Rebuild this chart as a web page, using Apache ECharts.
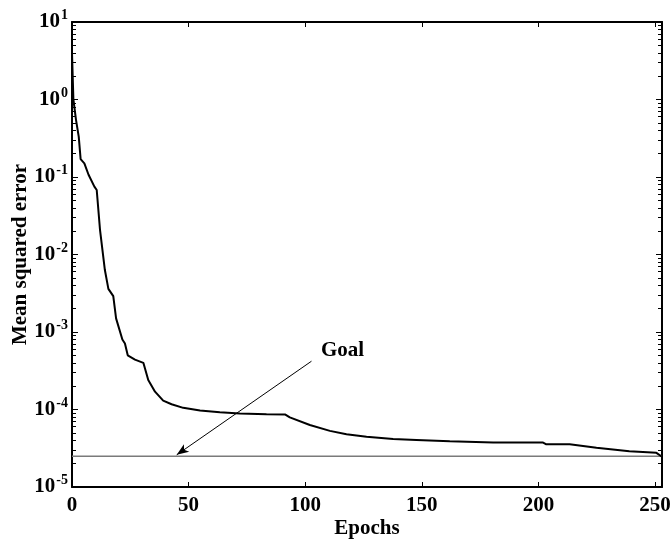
<!DOCTYPE html>
<html>
<head>
<meta charset="utf-8">
<script src="https://cdn.jsdelivr.net/npm/echarts@6/dist/echarts.min.js"></script>
<style>html,body{margin:0;padding:0;background:#fff;}#chart{width:672px;height:543px;}</style>
</head>
<body>
<div id="chart"></div>
<script>
// ---- data ----
const epochs = [0, 0.6, 1.7, 2.9, 3.7, 5.3, 7.1, 9.6, 10.6, 11.3, 12, 14.1, 15.6, 17.7, 18.9, 21.6, 22.7, 23.9, 27, 30.6, 32.7, 35.6, 39.1, 42.7, 47.7, 54.9, 63.4, 72, 83.4, 91.5, 93.4, 102, 110.6, 117.7, 126.3, 137.7, 147.7, 162, 180.6, 202, 203.4, 213.4, 224.9, 239, 250.6, 253];
const mse = [4, 1, 0.55, 0.33, 0.17, 0.15, 0.107, 0.075, 0.068, 0.068, 0.021, 0.0063, 0.0036, 0.0029, 0.0015, 8e-4, 7.1e-4, 5e-4, 4.4e-4, 4e-4, 2.4e-4, 1.7e-4, 1.3e-4, 1.17e-4, 1.05e-4, 9.7e-5, 9.2e-5, 8.9e-5, 8.7e-5, 8.6e-5, 7.9e-5, 6.3e-5, 5.3e-5, 4.8e-5, 4.45e-5, 4.15e-5, 4.05e-5, 3.9e-5, 3.75e-5, 3.75e-5, 3.55e-5, 3.55e-5, 3.2e-5, 2.9e-5, 2.76e-5, 2.46e-5];
const goalValue = 2.5e-5;
const xTicks = [0, 50, 100, 150, 200, 250];
const yDecades = [1e-5, 1e-4, 1e-3, 1e-2, 1e-1, 1, 10];
const xRange = [0, 253];
const arrowFrom = [102.7, 4.2e-4];
const arrowTo = [44.9, 2.6e-5];
const goalLabel = 'Goal';
const xTitle = 'Epochs';
const yTitle = 'Mean squared error';

const yMinor = [];
for (let k = -5; k <= 0; k++) {
  for (let m = 2; m <= 9; m++) yMinor.push(m * Math.pow(10, k));
}

const FONT = '"Liberation Serif", "Times New Roman", serif';
const FS = 21;
const black = '#000';

function supLabel(v) {
  const e = Math.round(Math.log10(v));
  return '{b|10}{s|' + (e < 0 ? '-' + (-e) : e) + '}';
}

const labelRich = {
  b: { fontFamily: FONT, fontWeight: 'bold', fontSize: FS, color: black },
  s: { fontFamily: FONT, fontWeight: 'bold', fontSize: 14, color: black, padding: [0, 0, 13, 1] }
};

function yAxisCfg(pos, major, withLabels) {
  return {
    type: 'log', logBase: 10, min: 1e-5, max: 10, position: pos,
    axisLine: { show: major, lineStyle: { color: black, width: 2 } },
    axisTick: { show: true, inside: true, length: major ? 6 : 4,
      customValues: major ? yDecades : yMinor, lineStyle: { color: black, width: 1 } },
    axisLabel: withLabels ? { show: true, customValues: yDecades, formatter: supLabel, rich: labelRich, margin: 4, align: 'right' } : { show: false },
    splitLine: { show: false },
    minorTick: { show: false },
    name: withLabels ? yTitle : '',
    nameLocation: 'middle', nameGap: 41, nameMoveOverlap: false,
    nameTextStyle: { fontFamily: FONT, fontWeight: 'bold', fontSize: FS, color: black }
  };
}

function xAxisCfg(pos, withLabels) {
  return {
    type: 'value', min: xRange[0], max: xRange[1], position: pos,
    axisLine: { show: true, onZero: false, lineStyle: { color: black, width: 2 } },
    axisTick: { show: true, inside: true, length: 5, customValues: xTicks, lineStyle: { color: black, width: 1 } },
    axisLabel: withLabels ? { show: true, customValues: xTicks, fontFamily: FONT, fontWeight: 'bold', fontSize: FS, color: black, margin: 8 } : { show: false },
    splitLine: { show: false },
    name: withLabels ? xTitle : '',
    nameLocation: 'middle', nameGap: 31, nameMoveOverlap: false,
    nameTextStyle: { fontFamily: FONT, fontWeight: 'bold', fontSize: FS, color: black }
  };
}

const chart = echarts.init(document.getElementById('chart'), null, { renderer: 'canvas' });
chart.setOption({
  animation: false,
  backgroundColor: '#fff',
  grid: { left: 72, right: 10, top: 22, bottom: 56, containLabel: false, outerBoundsMode: 'none' },
  xAxis: [xAxisCfg('bottom', true), xAxisCfg('top', false)],
  yAxis: [yAxisCfg('left', true, true), yAxisCfg('left', false, false), yAxisCfg('right', true, false), yAxisCfg('right', false, false)],
  graphic: [{
    type: 'text', left: 321, top: 340,
    style: { text: goalLabel, font: 'bold ' + FS + 'px ' + FONT, fill: black }
  }],
  series: [
    {
      type: 'line', xAxisIndex: 0, yAxisIndex: 0,
      data: [[xRange[0], goalValue], [xRange[1], goalValue]],
      showSymbol: false, symbol: 'none',
      lineStyle: { color: '#7a7a7a', width: 1.5 }, z: 2,
      markLine: {
        silent: true, symbol: ['none', 'arrow'], symbolSize: [7, 12],
        label: { show: false },
        lineStyle: { color: black, width: 1, type: 'solid' },
        data: [[{ coord: arrowFrom }, { coord: arrowTo }]]
      }
    },
    {
      type: 'line', xAxisIndex: 0, yAxisIndex: 0,
      data: epochs.map((e, i) => [e, mse[i]]),
      showSymbol: false, symbol: 'none',
      lineStyle: { color: black, width: 2 }, z: 3
    }
  ]
});
</script>
</body>
</html>
